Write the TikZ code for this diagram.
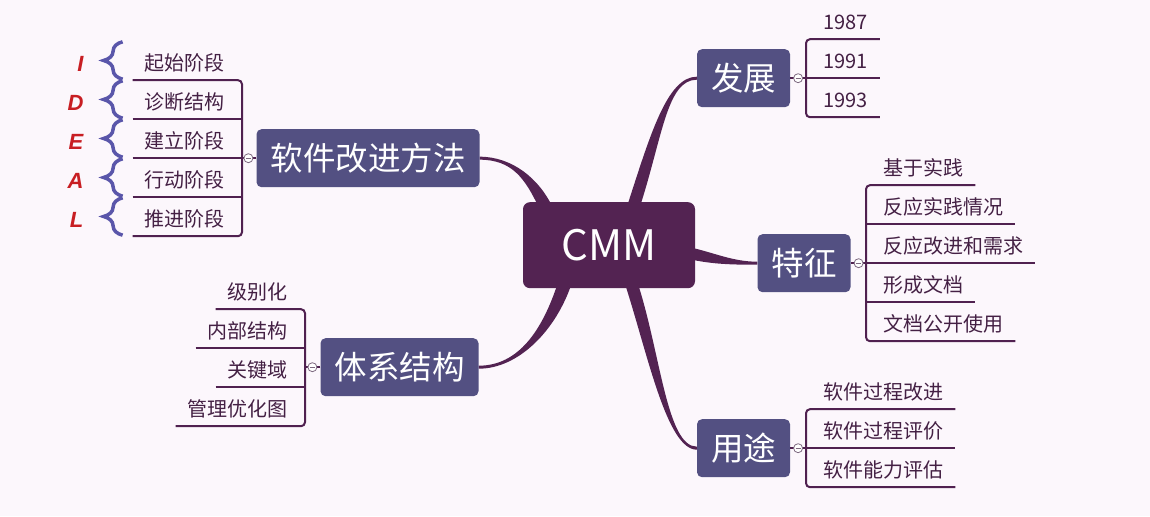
\documentclass[tikz,border=0pt]{standalone}
\usepackage{fontspec}
\setmainfont{Noto Sans CJK SC}
\newfontfamily\letterfont{Liberation Sans}
\usepackage{xcolor}
\usepackage{tikz}
\usetikzlibrary{positioning,calc,backgrounds,decorations.pathreplacing}

\definecolor{bgc}{RGB}{252,247,252}
\definecolor{rootc}{RGB}{83,35,82}
\definecolor{topicc}{RGB}{83,80,130}
\definecolor{linec}{RGB}{80,33,80}
\definecolor{subtextc}{RGB}{68,32,68}
\definecolor{bracec}{RGB}{90,86,170}
\definecolor{idealc}{RGB}{200,30,35}
\definecolor{foldc}{RGB}{125,105,128}

% tapered branch: from, half width, to, first control, second control
\newcommand{\twig}[5]{%
  \fill[rootc] ($(#1)+(#2)$) .. controls +(#4) and +(#5) .. ($(#3)+(0,1.5)$)
    -- ($(#3)+(0,-1.5)$) .. controls +(#5) and +(#4) .. ($(#1)-(#2)$) -- cycle;}

\begin{document}
\begin{tikzpicture}[x=1pt, y=1pt,
  root/.style={rectangle, rounded corners=7pt, fill=rootc, text=white,
    minimum width=172pt, minimum height=86pt, font=\fontsize{42}{44}\selectfont},
  topic/.style={rectangle, rounded corners=5pt, fill=topicc, text=white,
    minimum height=58pt, inner xsep=14pt, font=\fontsize{32.5}{34}\selectfont},
  sub/.style={font=\fontsize{20}{22}\selectfont, text=subtextc, inner xsep=12pt,
    inner ysep=0pt, text height=20.5pt, text depth=0.5pt, minimum height=39pt},
  subr/.style={sub, anchor=south west, execute at begin node={\hspace*{5pt}}},
  subl/.style={sub, anchor=south east, execute at end node={\hspace*{5pt}}},
  subline/.style={draw=linec, line width=2pt},
  fold/.style={circle, draw=foldc, fill=white, line width=0.8pt, minimum size=9pt,
    inner sep=0pt, path picture={\draw[foldc, line width=0.6pt]
      ([xshift=2pt]path picture bounding box.west) -- ([xshift=-2pt]path picture bounding box.east);}},
  wave/.style={draw=bracec, line width=3.5pt, decorate,
    decoration={brace, amplitude=19pt, aspect=0.5}},
  ideal/.style={font=\letterfont\bfseries\itshape\fontsize{22}{24}\selectfont,
    text=idealc, inner sep=0pt}
]
  % centre and main topics
  \node[root] (cmm) at (609, 271) {CMM};
  \node[topic] (fz) at (743.5, 438) {发展};
  \node[topic] (tz) at (804, 253) {特征};
  \node[topic] (yt) at (743.5, 68) {用途};
  \node[topic] (gj) at (368, 358) {软件改进方法};
  \node[topic] (tx) at (399.5, 149) {体系结构};

  % branches
  \coordinate (cmm-fz) at ($(cmm.north)+(24,-6)$);
  \coordinate (cmm-tz) at ($(cmm.east)+(-6,-8)$);
  \coordinate (cmm-yt) at ($(cmm.south)+(22,6)$);
  \coordinate (cmm-gj) at ($(cmm.north)+(-63,-6)$);
  \coordinate (cmm-tx) at ($(cmm.south)+(-44,6)$);
  \begin{pgfonlayer}{background}
    \path[use as bounding box, fill=bgc] (0,0) rectangle (1150,516);
    \twig{cmm-fz}{-6.5,0}{fz.west}{72:75}{180:30}
    \twig{cmm-tz}{0,6}{tz.west}{-12:25}{180:25}
    \twig{cmm-yt}{6.5,0}{yt.west}{-72:75}{180:30}
    \twig{cmm-gj}{7,0}{gj.east}{115:33}{0:32}
    \twig{cmm-tx}{-7,0}{tx.east}{-108:50}{0:40}
  \end{pgfonlayer}

  % 发展
  \node[subr] (fz1) at (806, 477) {1987};
  \node[subr] (fz2) at (806, 438) {1991};
  \node[subr] (fz3) at (806, 399) {1993};
  \draw[subline, rounded corners=4pt] (fz1.south east) -- (fz1.south west)
    -- (fz3.south west) -- (fz3.south east);
  \draw[subline] (fz.east) -- (fz2.south west |- fz.east);
  \node[fold, right=3pt of fz] (fzo) {};

  % 特征
  \node[subr] (tz1) at (866, 331) {基于实践};
  \node[subr] (tz2) at (866, 292) {反应实践情况};
  \node[subr] (tz3) at (866, 253) {反应改进和需求};
  \node[subr] (tz4) at (866, 214) {形成文档};
  \node[subr] (tz5) at (866, 175) {文档公开使用};
  \draw[subline, rounded corners=4pt] (tz1.south east) -- (tz1.south west)
    -- (tz5.south west) -- (tz5.south east);
  \draw[subline] (tz.east) -- (tz3.south west |- tz.east);
  \node[fold, right=3pt of tz] (tzo) {};

  % 用途
  \node[subr] (yt1) at (806, 107) {软件过程改进};
  \node[subr] (yt2) at (806, 68) {软件过程评价};
  \node[subr] (yt3) at (806, 29) {软件能力评估};
  \draw[subline, rounded corners=4pt] (yt1.south east) -- (yt1.south west)
    -- (yt3.south west) -- (yt3.south east);
  \draw[subline] (yt.east) -- (yt2.south west |- yt.east);
  \node[fold, right=3pt of yt] (yto) {};

  % 软件改进方法
  \node[subl] (gj1) at (242, 436) {起始阶段};
  \node[subl] (gj2) at (242, 397) {诊断结构};
  \node[subl] (gj3) at (242, 358) {建立阶段};
  \node[subl] (gj4) at (242, 319) {行动阶段};
  \node[subl] (gj5) at (242, 280) {推进阶段};
  \draw[subline, rounded corners=4pt] (gj1.south west) -- (gj1.south east)
    -- (gj5.south east) -- (gj5.south west);
  \draw[subline] (gj.west) -- (gj3.south east |- gj.west);
  \node[fold, left=3pt of gj] (gjo) {};

  % IDEAL
  \foreach \n in {gj1,gj2,gj3,gj4,gj5}
    \draw[wave] ($(\n.south west)+(-10,1)$) -- ($(\n.north west)+(-10,-1)$);
  \node[ideal, left=49pt of gj1.west, yshift=-3pt] (li) {I};
  \node[ideal, left=49pt of gj2.west, yshift=-3pt] (ld) {D};
  \node[ideal, left=49pt of gj3.west, yshift=-3pt] (le) {E};
  \node[ideal, left=49pt of gj4.west, yshift=-3pt] (la) {A};
  \node[ideal, left=49pt of gj5.west, yshift=-3pt] (ll) {L};

  % 体系结构
  \node[subl] (tx1) at (305, 207) {级别化};
  \node[subl] (tx2) at (305, 168) {内部结构};
  \node[subl] (tx3) at (305, 129) {关键域};
  \node[subl] (tx4) at (305, 90) {管理优化图};
  \draw[subline, rounded corners=4pt] (tx1.south west) -- (tx1.south east)
    -- (tx4.south east) -- (tx4.south west);
  \draw[subline] (tx.west) -- (tx1.south east |- tx.west);
  \node[fold, left=3pt of tx] (txo) {};

  % middle underlines
  \foreach \n in {fz2,yt2,tz2,tz3,tz4,gj2,gj3,gj4,tx2,tx3}
    \draw[subline] (\n.south west) -- (\n.south east);
\end{tikzpicture}
\end{document}
